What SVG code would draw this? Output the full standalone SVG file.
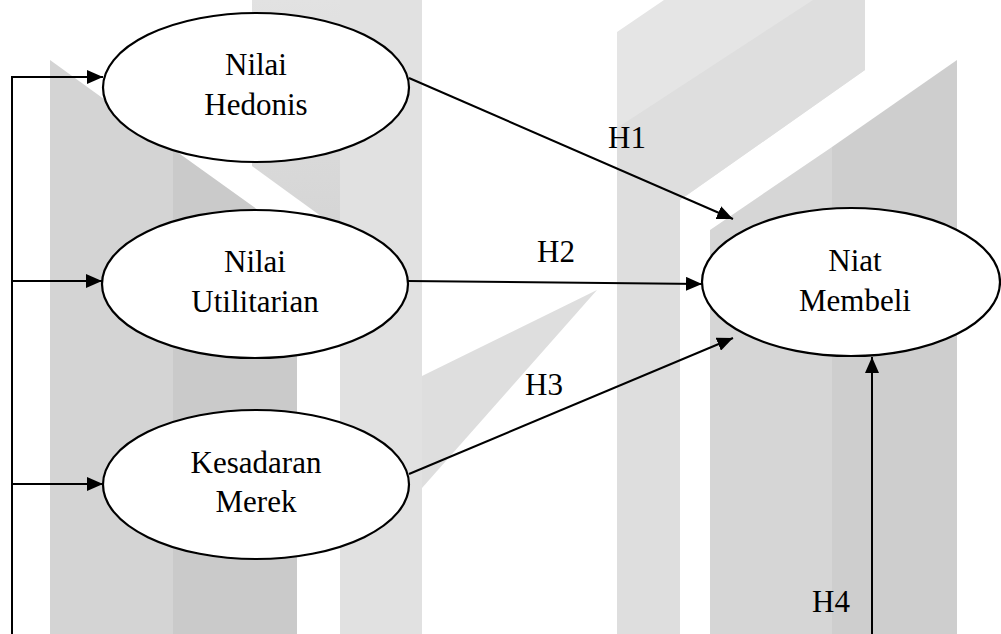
<svg xmlns="http://www.w3.org/2000/svg" width="1001" height="634" viewBox="0 0 1001 634">
  <defs>
    <style>
      .node ellipse { fill: #ffffff; stroke: #000000; stroke-width: 2.2; }
      .node text, .label { font-family: "Liberation Serif", "Times New Roman", serif; font-size: 31px; fill: #000000; text-anchor: middle; }
      .edge { fill: none; stroke: #000000; stroke-width: 2; }
    </style>
    <marker id="arrow" markerUnits="userSpaceOnUse" markerWidth="17" markerHeight="14" refX="16" refY="7" orient="auto">
      <path d="M0,0 L16,7 L0,14 Z" fill="#000000"/>
    </marker>
    <linearGradient id="colFade" x1="0" y1="0" x2="0" y2="1">
      <stop offset="0" stop-color="#e2e2e2"/>
      <stop offset="1" stop-color="#d5d5d5"/>
    </linearGradient>
  </defs>

  <rect width="1001" height="634" fill="#ffffff"/>

  <!-- background emblem -->
  <g id="backdrop">
    <polygon points="50,60 173,149 173,634 50,634" fill="#d4d4d4"/>
    <polygon points="173,149 297,238 297,634 173,634" fill="#cacaca"/>
    <polygon points="252,0 340,0 340,230 252,166" fill="url(#colFade)"/>
    <rect x="340" y="0" width="82" height="634" fill="#e1e1e1"/>
    <polygon points="422,376 597,290 422,488" fill="#dedede"/>
    <polygon points="617,32 664,0 865,0 865,70 680,200 680,634 617,634" fill="#e5e5e5"/>
    <polygon points="617,128 813,0 865,0 865,70 680,200 680,634 617,634" fill="#dedede"/>
    <polygon points="710,230 832,147 832,634 710,634" fill="#d6d6d6"/>
    <polygon points="832,147 957,60 957,634 832,634" fill="#cecece"/>
  </g>

  <!-- connectors -->
  <g id="connectors">
    <polyline class="edge" points="12,634 12,77 103,77" marker-end="url(#arrow)"/>
    <line class="edge" x1="12" y1="281" x2="102" y2="281" marker-end="url(#arrow)"/>
    <line class="edge" x1="12" y1="484" x2="103" y2="484" marker-end="url(#arrow)"/>
    <line class="edge" x1="409" y1="78" x2="733" y2="219" marker-end="url(#arrow)"/>
    <line class="edge" x1="408" y1="281" x2="702" y2="284" marker-end="url(#arrow)"/>
    <line class="edge" x1="409" y1="474" x2="733" y2="338" marker-end="url(#arrow)"/>
    <line class="edge" x1="872" y1="634" x2="872" y2="357" marker-end="url(#arrow)"/>
    <text class="label" x="627" y="148">H1</text>
    <text class="label" x="556" y="262">H2</text>
    <text class="label" x="544" y="395">H3</text>
    <text class="label" x="831" y="612">H4</text>
  </g>

  <g id="nilai-hedonis" class="node">
    <ellipse cx="256" cy="87.5" rx="153" ry="74.5"/>
    <text x="256" y="75">Nilai</text>
    <text x="256" y="115">Hedonis</text>
  </g>

  <g id="nilai-utilitarian" class="node">
    <ellipse cx="255" cy="284" rx="153" ry="74"/>
    <text x="255" y="272">Nilai</text>
    <text x="255" y="312">Utilitarian</text>
  </g>

  <g id="kesadaran-merek" class="node">
    <ellipse cx="256" cy="484.5" rx="153" ry="74.5"/>
    <text x="256" y="473">Kesadaran</text>
    <text x="256" y="512">Merek</text>
  </g>

  <g id="niat-membeli" class="node">
    <ellipse cx="851" cy="282" rx="149" ry="74"/>
    <text x="855" y="271">Niat</text>
    <text x="855" y="311">Membeli</text>
  </g>
</svg>
